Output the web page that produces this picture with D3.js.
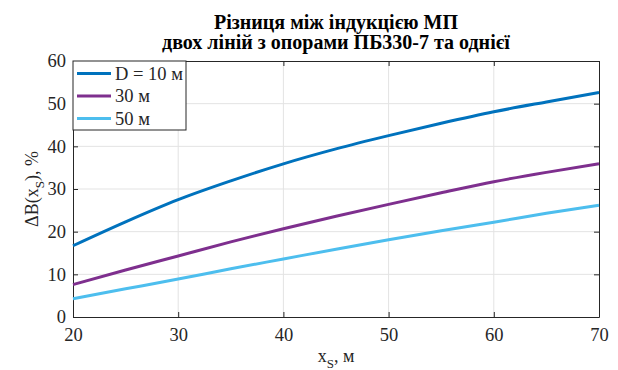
<!DOCTYPE html>
<html>
<head>
<meta charset="utf-8">
<script src="https://cdn.jsdelivr.net/npm/d3@7"></script>
<style>
  body { margin: 0; background: #fff; }
</style>
</head>
<body>
<svg width="618" height="370"></svg>
<script>
const xs = [20, 25, 30, 35, 40, 45, 50, 55, 60, 65, 70]
const d10 = [16.7, 22.3, 27.5, 31.9, 35.9, 39.4, 42.5, 45.4, 48.1, 50.4, 52.6]
const d30 = [7.6, 11.0, 14.3, 17.6, 20.7, 23.6, 26.4, 29.1, 31.7, 33.9, 35.9]
const d50 = [4.3, 6.6, 8.9, 11.3, 13.6, 15.9, 18.1, 20.2, 22.2, 24.3, 26.2]
const seriesNames = ['D = 10 м', '30 м', '50 м']
const seriesColors = ['#0072BD', '#7E2F8E', '#4DBEEE']
const xTicks = [20, 30, 40, 50, 60, 70]
const yTicks = [0, 10, 20, 30, 40, 50, 60]
const titleLines = ['Різниця між індукцією МП', 'двох ліній з опорами ПБ330-7 та однієї']

const serif = 'Liberation Serif'

const svg = d3.select('svg')
const margin = { top: 61, right: 19, bottom: 53, left: 73 }
const width = +svg.attr('width')
const height = +svg.attr('height')
const innerWidth = width - margin.left - margin.right
const innerHeight = height - margin.top - margin.bottom

const xScale = d3.scaleLinear().domain([20, 70]).range([0, innerWidth])
const yScale = d3.scaleLinear().domain([0, 60]).range([innerHeight, 0])

const g = svg.append('g')
  .attr('transform', `translate(${margin.left}, ${margin.top})`)

// grid
g.append('g').selectAll('line')
  .data(xTicks.slice(1, -1))
  .enter().append('line')
  .attr('x1', d => xScale(d)).attr('x2', d => xScale(d))
  .attr('y1', 0).attr('y2', innerHeight)
  .style('stroke', '#e3e3e3')
g.append('g').selectAll('line')
  .data(yTicks.slice(1, -1))
  .enter().append('line')
  .attr('y1', d => yScale(d)).attr('y2', d => yScale(d))
  .attr('x1', 0).attr('x2', innerWidth)
  .style('stroke', '#e3e3e3')

// axes, ticks pointing inward like the original
const tick = 5
const xAxis = d3.axisBottom(xScale).tickValues(xTicks).tickSizeInner(-tick).tickSizeOuter(0).tickPadding(11)
const yAxis = d3.axisLeft(yScale).tickValues(yTicks).tickSizeInner(-tick).tickSizeOuter(0).tickPadding(7)

g.append('g').attr('transform', `translate(0, ${innerHeight})`).call(xAxis)
g.append('g').call(yAxis)
const topAxis = g.append('g')
  .call(d3.axisTop(xScale).tickValues(xTicks).tickSizeInner(-tick).tickSizeOuter(0))
const rightAxis = g.append('g').attr('transform', `translate(${innerWidth}, 0)`)
  .call(d3.axisRight(yScale).tickValues(yTicks).tickSizeInner(-tick).tickSizeOuter(0))
topAxis.selectAll('text').remove()
rightAxis.selectAll('text').remove()

g.selectAll('.domain, .tick line').style('stroke', '#262626')
g.selectAll('g').attr('font-family', serif).attr('font-size', 18.5)
g.selectAll('.tick text').attr('fill', '#262626')

// lines
const series = [d10, d30, d50]
const line = d3.line()
  .x((d, i) => xScale(xs[i]))
  .y(d => yScale(d))
  .curve(d3.curveMonotoneX)

g.selectAll('.series')
  .data(series)
  .enter().append('path')
  .attr('d', line)
  .style('fill', 'none')
  .style('stroke', (d, i) => seriesColors[i])
  .style('stroke-width', 3)

// legend
const legend = g.append('g')
legend.append('rect')
  .attr('x', 0).attr('y', 0)
  .attr('width', 113).attr('height', 69)
  .style('fill', '#fff')
  .style('stroke', '#262626')
  .style('stroke-width', 1)
seriesNames.forEach((name, i) => {
  const y = 12.5 + i * 22.5
  legend.append('line')
    .attr('x1', 4).attr('x2', 38)
    .attr('y1', y).attr('y2', y)
    .style('stroke', seriesColors[i])
    .style('stroke-width', 3)
  legend.append('text')
    .attr('x', 42).attr('y', y)
    .attr('dy', '0.33em')
    .attr('font-family', serif)
    .attr('font-size', 18.5)
    .attr('fill', '#262626')
    .text(name)
})

// title
svg.append('g').selectAll('text')
  .data(titleLines)
  .enter().append('text')
  .attr('x', margin.left + innerWidth / 2)
  .attr('y', (d, i) => 29 + i * 20)
  .attr('text-anchor', 'middle')
  .attr('font-family', serif)
  .attr('font-size', 20)
  .attr('font-weight', 'bold')
  .attr('fill', '#000')
  .text(d => d)

// x label
const xl = svg.append('text')
  .attr('x', margin.left + innerWidth / 2)
  .attr('y', 362)
  .attr('text-anchor', 'middle')
  .attr('font-family', serif)
  .attr('font-size', 18)
  .attr('fill', '#262626')
xl.append('tspan').text('x')
xl.append('tspan').attr('dy', 6).attr('font-size', 13).text('S')
xl.append('tspan').attr('dy', -6).text(', м')

// y label
const yl = svg.append('text')
  .attr('transform', `translate(38, ${margin.top + innerHeight / 2}) rotate(-90)`)
  .attr('text-anchor', 'middle')
  .attr('font-family', serif)
  .attr('font-size', 18)
  .attr('fill', '#262626')
yl.append('tspan').text('ΔB(x')
yl.append('tspan').attr('dy', 6).attr('font-size', 13).text('S')
yl.append('tspan').attr('dy', -6).text('), %')
</script>
</body>
</html>
